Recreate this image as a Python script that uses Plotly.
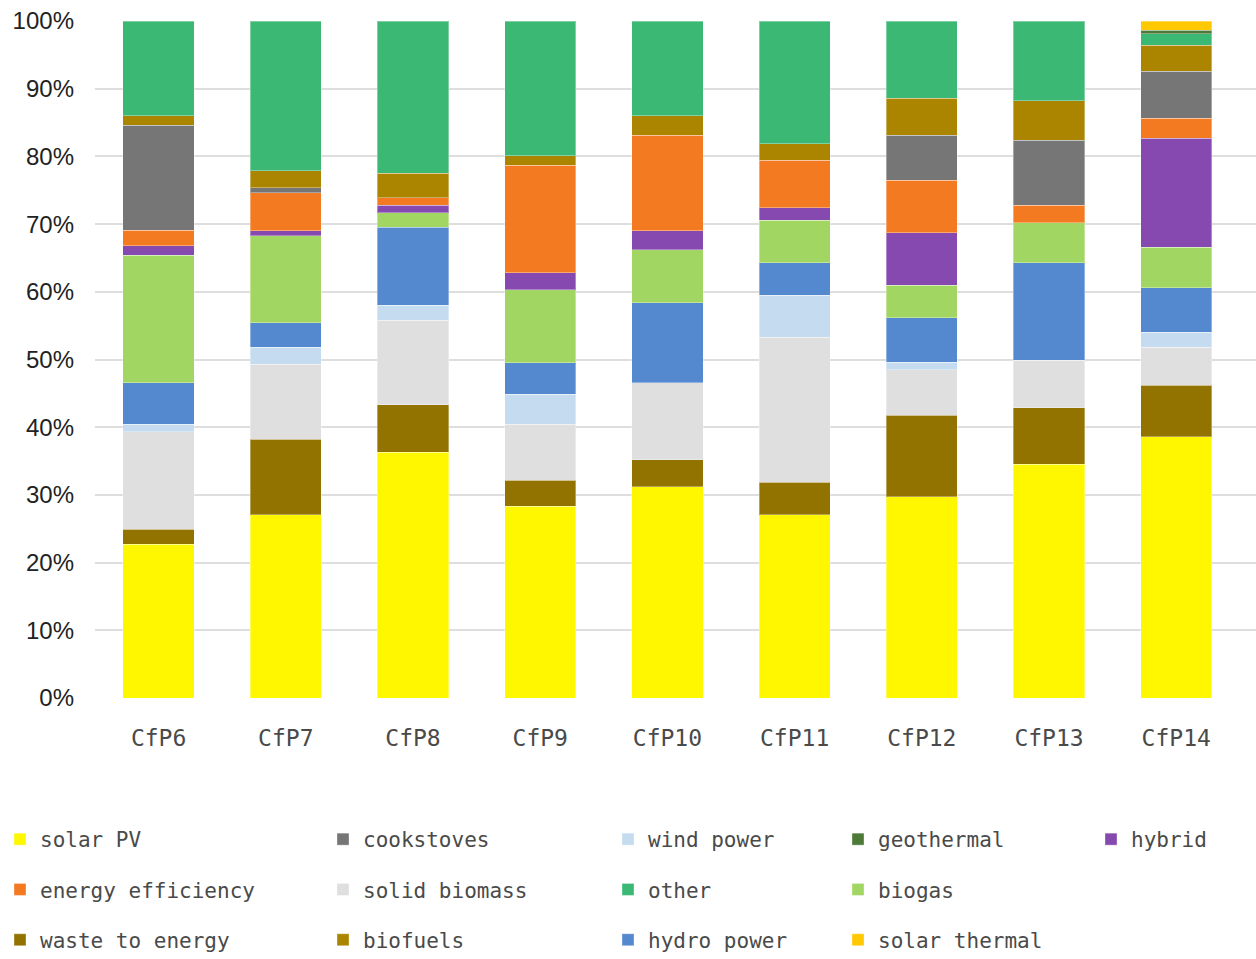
import plotly.graph_objects as go

# Share of funded projects per technology, by call for proposals (percent)
categories = ["CfP6", "CfP7", "CfP8", "CfP9", "CfP10", "CfP11", "CfP12", "CfP13", "CfP14"]

solar_pv          = [22.7, 27.1, 36.3, 28.3, 31.2, 27.1, 29.7, 34.5, 38.6]
waste_to_energy   = [2.2, 11.1, 7.0, 3.9, 4.0, 4.8, 12.1, 8.4, 7.6]
solid_biomass     = [14.4, 11.1, 12.5, 8.2, 11.4, 21.4, 6.7, 7.0, 5.6]
wind_power        = [1.1, 2.5, 2.2, 4.5, 0.0, 6.2, 1.1, 0.0, 2.2]
hydro_power       = [6.2, 3.6, 11.5, 4.6, 11.8, 4.8, 6.6, 14.4, 6.6]
biogas            = [18.8, 12.9, 2.2, 10.8, 7.8, 6.3, 4.8, 5.9, 6.0]
hybrid            = [1.4, 0.7, 1.1, 2.5, 2.8, 1.8, 7.7, 0.0, 16.1]
energy_efficiency = [2.3, 5.6, 1.1, 15.9, 14.1, 7.0, 7.8, 2.6, 2.9]
cookstoves        = [15.5, 0.8, 0.0, 0.0, 0.0, 0.0, 6.6, 9.6, 7.0]
biofuels          = [1.4, 2.5, 3.6, 1.4, 2.9, 2.5, 5.5, 5.8, 3.8]
other             = [14.0, 22.1, 22.5, 19.9, 14.0, 18.1, 11.4, 11.8, 1.7]
geothermal        = [0.0, 0.0, 0.0, 0.0, 0.0, 0.0, 0.0, 0.0, 0.5]
solar_thermal     = [0.0, 0.0, 0.0, 0.0, 0.0, 0.0, 0.0, 0.0, 1.4]

y_ticks = [0, 10, 20, 30, 40, 50, 60, 70, 80, 90, 100]
y_tick_labels = [f"{t}%" for t in y_ticks]

# (name, values, colour, legend column, row) in stacking order, bottom to top
series = [
    ("solar PV", solar_pv, "#FFF700", 1, 1),
    ("waste to energy", waste_to_energy, "#937300", 1, 3),
    ("solid biomass", solid_biomass, "#DFDFDF", 2, 2),
    ("wind power", wind_power, "#C5DCF0", 3, 1),
    ("hydro power", hydro_power, "#5488CF", 3, 3),
    ("biogas", biogas, "#A2D662", 4, 2),
    ("hybrid", hybrid, "#8549AF", 5, 1),
    ("energy efficiency", energy_efficiency, "#F47A22", 1, 2),
    ("cookstoves", cookstoves, "#767676", 2, 1),
    ("biofuels", biofuels, "#AB8500", 2, 3),
    ("other", other, "#3BB974", 3, 2),
    ("geothermal", geothermal, "#4E7A38", 4, 1),
    ("solar thermal", solar_thermal, "#FFC800", 4, 3),
]

W, H = 1256, 959
legend_text_x = {1: 41, 2: 364, 3: 649, 4: 879, 5: 1132}
legend_top = 819

fig = go.Figure()
for name, vals, color, col, row in series:
    fig.add_trace(go.Bar(
        x=categories,
        y=[v if v > 0 else None for v in vals],
        name=name,
        marker=dict(color=color, line=dict(color="rgba(255,255,255,0.35)", width=1)),
        legend="legend" if col == 1 else f"legend{col}",
        legendgroup=name,
        legendrank=row,
    ))

legend_common = dict(
    orientation="v",
    xref="container", yref="container",
    xanchor="left", yanchor="top",
    font=dict(family="DejaVu Sans Mono", size=21, color="#4A4A4A"),
    tracegroupgap=20,
    bgcolor="rgba(0,0,0,0)",
    borderwidth=0,
)
layout_legends = {}
for col, tx in legend_text_x.items():
    key = "legend" if col == 1 else f"legend{col}"
    layout_legends[key] = dict(legend_common, x=(tx - 41) / W, y=1 - legend_top / H)

fig.update_layout(
    width=W, height=H,
    margin=dict(l=95, r=0, t=21, b=H - 698, autoexpand=False),
    paper_bgcolor="white",
    plot_bgcolor="white",
    barmode="stack",
    bargap=0.44,
    showlegend=True,
    xaxis=dict(
        range=[-0.5, 8.627],
        showgrid=False, zeroline=False, showline=False,
        ticks="", ticklabelstandoff=24, tickangle=0,
        tickfont=dict(family="DejaVu Sans Mono", size=23, color="#4A4A4A"),
    ),
    yaxis=dict(
        range=[0, 100],
        tickmode="array",
        tickvals=y_ticks,
        ticktext=y_tick_labels,
        showgrid=True, gridcolor="#DEDEDE", gridwidth=2,
        zeroline=False, showline=False,
        ticks="", ticklabelstandoff=20,
        tickfont=dict(family="Liberation Sans", size=24, color="#222222"),
    ),
    **layout_legends,
)

fig.write_html("out.html")
